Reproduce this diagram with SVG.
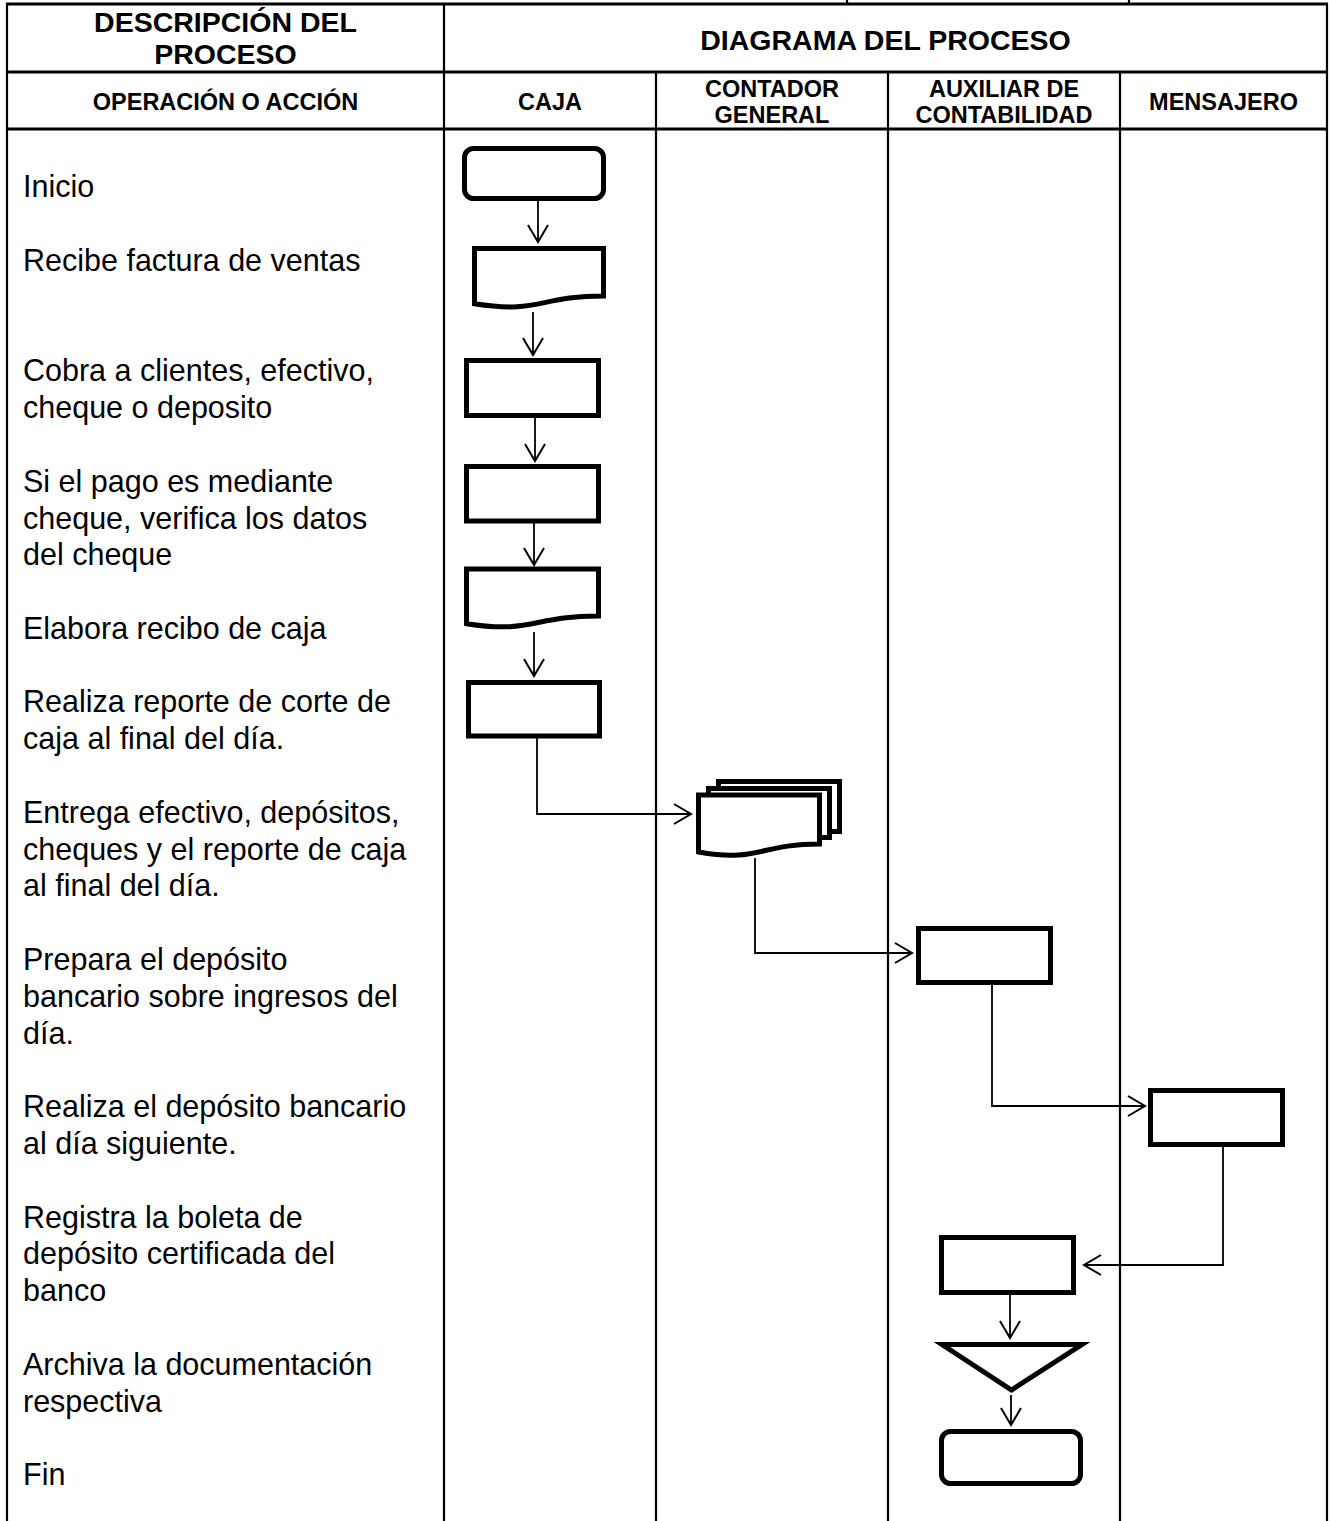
<svg xmlns="http://www.w3.org/2000/svg" width="1332" height="1521" viewBox="0 0 1332 1521">
<style>
  .grid { stroke:#000; stroke-width:2.2; fill:none; }
  .hgrid { stroke:#000; stroke-width:2.8; fill:none; }
  .h1 { font-family:"Liberation Sans", Arial, sans-serif; font-weight:bold; font-size:28.5px; text-anchor:middle; fill:#000; }
  .h2 { font-family:"Liberation Sans", Arial, sans-serif; font-weight:bold; font-size:23.5px; text-anchor:middle; fill:#000; }
  .body { font-family:"Liberation Sans", Arial, sans-serif; font-size:30.5px; fill:#000; }
  .shape { fill:#fff; stroke:#000; stroke-width:5; stroke-linejoin:miter; }
  .conn { fill:none; stroke:#000; stroke-width:1.8; }
</style>
<defs>
  <marker id="arr" markerUnits="userSpaceOnUse" markerWidth="40" markerHeight="40" viewBox="-20 -20 40 40" refX="0" refY="0" orient="auto" overflow="visible">
    <path d="M-17,-10 L0,0 L-17,10" fill="none" stroke="#000" stroke-width="2"/>
  </marker>
</defs>
<rect x="0" y="0" width="1332" height="1521" fill="#fff"/>

<g id="table">
  <line class="grid" x1="847" y1="0" x2="847" y2="4"/>
  <line class="grid" x1="1129" y1="0" x2="1129" y2="4"/>
  <line class="hgrid" x1="6" y1="4" x2="1328" y2="4"/>
  <line class="hgrid" x1="6" y1="72" x2="1328" y2="72"/>
  <line class="hgrid" x1="6" y1="129" x2="1328" y2="129"/>
  <line class="grid" x1="7" y1="3" x2="7" y2="1521"/>
  <line class="grid" x1="1327" y1="3" x2="1327" y2="1521"/>
  <line class="grid" x1="444" y1="3" x2="444" y2="1521"/>
  <line class="grid" x1="656" y1="72" x2="656" y2="1521"/>
  <line class="grid" x1="888" y1="72" x2="888" y2="1521"/>
  <line class="grid" x1="1120" y1="72" x2="1120" y2="1521"/>
</g>

<g id="headers">
  <text class="h1" x="225.5" y="32">DESCRIPCIÓN DEL</text>
  <text class="h1" x="225.5" y="63.5">PROCESO</text>
  <text class="h1" x="885.5" y="49.5">DIAGRAMA DEL PROCESO</text>
  <text class="h2" x="225.5" y="110">OPERACIÓN O ACCIÓN</text>
  <text class="h2" x="550" y="110">CAJA</text>
  <text class="h2" x="772" y="96.5">CONTADOR</text>
  <text class="h2" x="772" y="122.5">GENERAL</text>
  <text class="h2" x="1004" y="96.5">AUXILIAR DE</text>
  <text class="h2" x="1004" y="122.5">CONTABILIDAD</text>
  <text class="h2" x="1223.5" y="110">MENSAJERO</text>
</g>

<g id="descriptions">
  <text class="body" x="23" y="197">Inicio</text>
  <text class="body" x="23" y="270.5">Recibe factura de ventas</text>
  <text class="body" x="23" y="381">Cobra a clientes, efectivo,</text>
  <text class="body" x="23" y="418">cheque o deposito</text>
  <text class="body" x="23" y="491.5">Si el pago es mediante</text>
  <text class="body" x="23" y="528.5">cheque, verifica los datos</text>
  <text class="body" x="23" y="565">del cheque</text>
  <text class="body" x="23" y="638.5">Elabora recibo de caja</text>
  <text class="body" x="23" y="712">Realiza reporte de corte de</text>
  <text class="body" x="23" y="749">caja al final del día.</text>
  <text class="body" x="23" y="822.5">Entrega efectivo, depósitos,</text>
  <text class="body" x="23" y="859.5">cheques y el reporte de caja</text>
  <text class="body" x="23" y="896">al final del día.</text>
  <text class="body" x="23" y="970">Prepara el depósito</text>
  <text class="body" x="23" y="1006.5">bancario sobre ingresos del</text>
  <text class="body" x="23" y="1043.5">día.</text>
  <text class="body" x="23" y="1117">Realiza el depósito bancario</text>
  <text class="body" x="23" y="1154">al día siguiente.</text>
  <text class="body" x="23" y="1227.5">Registra la boleta de</text>
  <text class="body" x="23" y="1264">depósito certificada del</text>
  <text class="body" x="23" y="1301">banco</text>
  <text class="body" x="23" y="1374.5">Archiva la documentación</text>
  <text class="body" x="23" y="1411.5">respectiva</text>
  <text class="body" x="23" y="1485">Fin</text>
</g>

<g id="connectors">
  <path class="conn" d="M538,201 V242" marker-end="url(#arr)"/>
  <path class="conn" d="M533,312 V355" marker-end="url(#arr)"/>
  <path class="conn" d="M535,418 V461" marker-end="url(#arr)"/>
  <path class="conn" d="M534,523 V565" marker-end="url(#arr)"/>
  <path class="conn" d="M534,632 V676" marker-end="url(#arr)"/>
  <path class="conn" d="M537,738 V814 H691" marker-end="url(#arr)"/>
  <path class="conn" d="M755,858 V953 H912" marker-end="url(#arr)"/>
  <path class="conn" d="M992,985 V1106 H1145" marker-end="url(#arr)"/>
  <path class="conn" d="M1223,1147 V1265 H1084" marker-end="url(#arr)"/>
  <path class="conn" d="M1010,1295 V1338" marker-end="url(#arr)"/>
  <path class="conn" d="M1011,1395 V1425" marker-end="url(#arr)"/>
</g>

<g id="n-inicio"><rect class="shape" x="464.5" y="148.5" width="139" height="50" rx="9"/></g>
<g id="n-recibe"><path class="shape" d="M474.5,248.5 H603.5 V296 C539,296 539,314 474.5,303.8 Z"/></g>
<g id="n-cobra"><rect class="shape" x="466.5" y="360.5" width="132" height="55"/></g>
<g id="n-verifica"><rect class="shape" x="466.5" y="466.5" width="132" height="54.5"/></g>
<g id="n-recibo"><path class="shape" d="M466.5,569 H598.5 V616 C532.5,616 532.5,634 466.5,623.7 Z"/></g>
<g id="n-reporte"><rect class="shape" x="468.5" y="682.5" width="131" height="53.5"/></g>
<g id="n-entrega">
  <rect class="shape" x="718.5" y="781.5" width="121" height="50"/>
  <rect class="shape" x="708.5" y="788.5" width="121" height="49"/>
  <path class="shape" d="M698.5,795 H819.5 V844 C759,844 759,862.6 698.5,852 Z"/>
</g>
<g id="n-prepara"><rect class="shape" x="918.5" y="928.5" width="132" height="54"/></g>
<g id="n-deposito"><rect class="shape" x="1150.5" y="1090.5" width="132" height="54"/></g>
<g id="n-registra"><rect class="shape" x="941.5" y="1237.5" width="132" height="55"/></g>
<g id="n-archiva"><path class="shape" d="M942,1344.5 H1082 L1011.5,1390 Z"/></g>
<g id="n-fin"><rect class="shape" x="941.5" y="1431.5" width="139" height="52" rx="9"/></g>
</svg>
